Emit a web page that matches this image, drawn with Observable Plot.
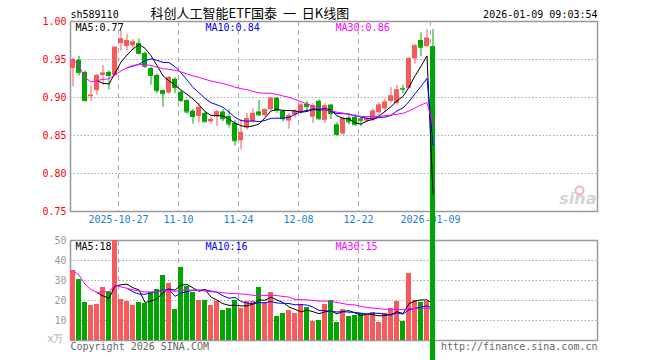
<!DOCTYPE html>
<html><head><meta charset="utf-8">
<script src="https://cdn.jsdelivr.net/npm/d3@7"></script>
<script src="https://cdn.jsdelivr.net/npm/@observablehq/plot@0.6"></script>
<style>
html,body{margin:0;padding:0;background:#fff;}
#wrap{position:relative;width:660px;height:360px;overflow:hidden;background:#fff;}
#top{position:absolute;left:0;top:0;z-index:2;}
#bot{position:absolute;left:0;top:232px;z-index:1;}
#wrap svg{overflow:visible;}
</style></head><body><div id="wrap"><div id="top"></div><div id="bot"></div></div>
<script>
const dates = ["2025-10-15","2025-10-16","2025-10-17","2025-10-20","2025-10-21","2025-10-22","2025-10-23","2025-10-24","2025-10-27","2025-10-28","2025-10-29","2025-10-30","2025-10-31",
"2025-11-03","2025-11-04","2025-11-05","2025-11-06","2025-11-07","2025-11-10","2025-11-11","2025-11-12","2025-11-13","2025-11-14","2025-11-17","2025-11-18","2025-11-19","2025-11-20","2025-11-21","2025-11-24","2025-11-25","2025-11-26","2025-11-27","2025-11-28",
"2025-12-01","2025-12-02","2025-12-03","2025-12-04","2025-12-05","2025-12-08","2025-12-09","2025-12-10","2025-12-11","2025-12-12","2025-12-15","2025-12-16","2025-12-17","2025-12-18","2025-12-19","2025-12-22","2025-12-23","2025-12-24","2025-12-25","2025-12-26","2025-12-29","2025-12-30","2025-12-31",
"2026-01-05","2026-01-06","2026-01-07","2026-01-08","2026-01-09"];
const open = [0.938,0.949,0.933,0.901,0.909,0.929,0.933,0.929,0.971,0.967,
0.968,0.971,0.958,0.938,0.929,0.909,0.906,0.924,0.907,0.896,
0.882,0.875,0.879,0.868,0.874,0.881,0.875,0.866,0.843,0.860,
0.868,0.881,0.876,0.884,0.899,0.882,0.869,0.877,0.880,0.891,
0.874,0.895,0.870,0.890,0.864,0.852,0.873,0.874,0.872,0.869,
0.870,0.880,0.885,0.895,0.892,0.912,0.912,0.951,0.975,0.967,
0.967];
const close = [0.950,0.933,0.896,0.903,0.929,0.932,0.929,0.966,0.977,0.975,
0.973,0.958,0.941,0.929,0.909,0.905,0.926,0.913,0.896,0.881,
0.875,0.887,0.868,0.871,0.881,0.872,0.865,0.843,0.854,0.872,
0.879,0.877,0.884,0.899,0.883,0.872,0.876,0.882,0.890,0.888,
0.889,0.872,0.889,0.879,0.851,0.872,0.868,0.864,0.870,0.872,
0.882,0.890,0.894,0.902,0.910,0.911,0.951,0.968,0.966,0.978,
0];
const high = [0.952,0.954,0.935,0.915,0.930,0.942,0.935,0.967,0.987,0.983,
0.976,0.977,0.960,0.940,0.931,0.910,0.928,0.926,0.909,0.897,
0.884,0.892,0.882,0.874,0.883,0.884,0.884,0.870,0.871,0.879,
0.885,0.896,0.885,0.900,0.900,0.883,0.879,0.884,0.893,0.895,
0.892,0.897,0.892,0.891,0.867,0.874,0.879,0.878,0.873,0.874,
0.885,0.893,0.898,0.913,0.916,0.916,0.953,0.970,0.985,0.9895,
0.9895];
const low = [0.914,0.928,0.894,0.895,0.903,0.916,0.910,0.928,0.961,0.962,
0.962,0.956,0.938,0.916,0.905,0.887,0.904,0.905,0.893,0.878,
0.865,0.867,0.867,0.865,0.862,0.868,0.860,0.836,0.831,0.857,
0.866,0.875,0.874,0.883,0.879,0.868,0.858,0.873,0.878,0.881,
0.866,0.870,0.866,0.871,0.850,0.850,0.864,0.863,0.862,0.867,
0.868,0.876,0.881,0.893,0.890,0.905,0.911,0.944,0.954,0.966,
0];
const volume = [35,30.5,19,17.5,18,26.5,24.3,50,20.5,19.5,
17.5,19,18.5,24,25.5,32.5,28.5,15.5,36.5,27,
24,20,20,17.5,19.5,15,16,20,16,19.5,
19.5,26.5,19,24,12,13.5,15,13.5,17.5,16.5,
9.5,10,18,20,9,15.5,12,12.5,13.5,12.5,
14,9,13.5,16,19.5,9.5,33.5,20,19,19.5,
0];
const priceTicks = [1.00,0.95,0.90,0.85,0.80,0.75];
const priceGrid = [0.95,0.90,0.85,0.80];
const volTicks = [50,40,30,20,10];
const volGrid = [40,30,20,10];
const dateTicks = ["2025-10-27","2025-11-10","2025-11-24","2025-12-08","2025-12-22","2026-01-09"];
const dateTickLabels = ["2025-10-27","11-10","11-24","12-08","12-22","2026-01-09"];
const maPeriods = [5,10,30];
const maStrict = [true,true,false];
const maColors = ["#000000","#0000ff","#ff00ff"];
const priceLegend = ["MA5:0.77","MA10:0.84","MA30:0.86"];
const volLegend = ["MA5:18","MA10:16","MA30:15"];
const symbol = "sh589110";
const title = "科创人工智能ETF国泰  一  日K线图";
const stamp = "2026-01-09 09:03:54";
const volUnit = "x万";
const copyright = "Copyright 2026 SINA.COM";
const url = "http://finance.sina.com.cn";

const RED = "#f65a5a", GREEN = "#00a600", GRID = "#aaaaaa", BLUE = "#1b7fd6";
const rows = dates.map((d, i) => ({date: d, i, open: open[i], close: close[i], high: high[i], low: low[i], volume: volume[i]}));
const up = d => d.close >= d.open;
const dn = d => d.close < d.open;
const slots = 527 / 6;
const mid = d => d.i + 5 / 12;
const tickX = d => dates.indexOf(d);
const font = "'DejaVu Sans Mono', monospace";

function candles(filter, color) {
  return [
    Plot.ruleX(rows, {filter, x: mid, y1: "low", y2: "high", stroke: color, strokeWidth: 1}),
    Plot.rect(rows, {filter, x1: "i", x2: d => d.i + 5 / 6, y1: "open", y2: "close", fill: color}),
    Plot.ruleY(rows, {filter, x1: "i", x2: d => d.i + 5 / 6, y: "close", stroke: color})
  ];
}
function maLines(field) {
  return maPeriods.map((k, j) => Plot.lineY(rows, Plot.windowY({k, anchor: "end", strict: maStrict[j]}, {x: mid, y: field, stroke: maColors[j], strokeWidth: 1})));
}

const topPlot = Plot.plot({
  width: 660, height: 232,
  marginLeft: 70, marginRight: 63, marginTop: 21, marginBottom: 21,
  x: {type: "linear", domain: [0, slots], axis: null},
  y: {domain: [0.75, 1.0], axis: null},
  style: {fontFamily: font, fontSize: "10px", overflow: "visible", background: "white"},
  marks: [
    Plot.ruleY(priceGrid, {stroke: GRID, strokeDasharray: "1.5,2"}),
    Plot.ruleX(dateTicks, {x: tickX, stroke: GRID, strokeDasharray: "5,4"}),
    Plot.frame({stroke: "#999", strokeWidth: 1.5}),
    Plot.text(priceTicks, {y: d => d, text: d => d.toFixed(2), frameAnchor: "left", dx: -4, textAnchor: "end", fill: "#ff0000"}),
    Plot.text(dateTicks, {x: tickX, text: (d, i) => dateTickLabels[i], frameAnchor: "bottom", dy: 11, fill: BLUE}),
    Plot.text([symbol], {frameAnchor: "top-left", dy: -4, lineAnchor: "bottom", textAnchor: "start", fill: "#000"}),
    Plot.text([title], {frameAnchor: "top-left", dx: 80, dy: -4, lineAnchor: "bottom", textAnchor: "start", fill: "#000", fontSize: 13, fontFamily: "'Noto Sans CJK SC', sans-serif"}),
    Plot.text([stamp], {frameAnchor: "top-right", dy: -4, lineAnchor: "bottom", textAnchor: "end", fill: "#000"}),
    ...priceLegend.map((t, k) => Plot.text([t], {frameAnchor: "top-left", dx: 5 + 130 * k, dy: 9.5, lineAnchor: "bottom", textAnchor: "start", fill: maColors[k]})),
    Plot.dot([0], {frameAnchor: "bottom-right", dx: -18, dy: -21, r: 4, stroke: "#f3b3b3", strokeWidth: 2, fill: "none"}),
    Plot.text(["sina"], {frameAnchor: "bottom-right", dx: -1, dy: -8, lineAnchor: "bottom", textAnchor: "end", fill: "#d4d4d4", fontSize: 16, fontWeight: "bold", fontStyle: "italic", fontFamily: "'DejaVu Sans', sans-serif"}),
    ...candles(up, RED),
    ...candles(dn, GREEN),
    ...maLines("close")
  ]
});
document.getElementById("top").append(topPlot);

const botPlot = Plot.plot({
  width: 660, height: 128,
  marginLeft: 70, marginRight: 63, marginTop: 8, marginBottom: 20,
  x: {type: "linear", domain: [0, slots], axis: null},
  y: {domain: [0, 50], axis: null},
  style: {fontFamily: font, fontSize: "10px", overflow: "visible", background: "white"},
  marks: [
    Plot.ruleY(volGrid, {stroke: GRID, strokeDasharray: "1.5,2"}),
    Plot.ruleX(dateTicks, {x: tickX, stroke: GRID, strokeDasharray: "5,4"}),
    Plot.frame({stroke: "#999", strokeWidth: 1.5}),
    Plot.text(volTicks, {y: d => d, text: d => String(d), frameAnchor: "left", dx: -4, textAnchor: "end", fill: "#999"}),
    Plot.text([volUnit], {frameAnchor: "bottom-left", dx: -7, dy: 1, textAnchor: "end", fill: "#aaa"}),
    ...volLegend.map((t, k) => Plot.text([t], {frameAnchor: "top-left", dx: 5 + 130 * k, dy: 9.5, lineAnchor: "bottom", textAnchor: "start", fill: maColors[k]})),
    Plot.rect(rows, {filter: up, x1: "i", x2: d => d.i + 5 / 6, y1: 0, y2: "volume", fill: RED}),
    Plot.rect(rows, {filter: dn, x1: "i", x2: d => d.i + 5 / 6, y1: 0, y2: "volume", fill: GREEN}),
    ...maLines("volume"),
    Plot.text([copyright], {frameAnchor: "bottom-left", dy: 9, lineAnchor: "bottom", textAnchor: "start", fill: "#666"}),
    Plot.text([url], {frameAnchor: "bottom-right", dy: 9, lineAnchor: "bottom", textAnchor: "end", fill: "#666"})
  ]
});
document.getElementById("bot").append(botPlot);
</script></body></html>
